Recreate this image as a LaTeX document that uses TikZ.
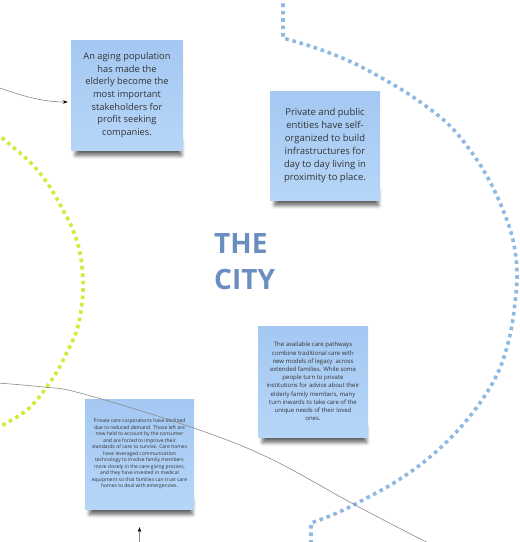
\documentclass[tikz,border=0pt]{standalone}
\usepackage{fontspec}
\setmainfont{Open Sans}
\usetikzlibrary{arrows.meta,shadows.blur,backgrounds}
\definecolor{notetop}{HTML}{A4C8F2}
\definecolor{notebot}{HTML}{B6D6F8}
\definecolor{dotblue}{HTML}{8DB9E2}
\definecolor{dotgreen}{HTML}{D3EA3B}
\definecolor{citycol}{HTML}{6B8EC0}
\definecolor{linegray}{HTML}{8A8A8A}
\tikzset{
  note/.style={rectangle, top color=notetop, bottom color=notebot, draw=none,
    inner sep=0pt, align=center, text=black!80},
  noteshadow/.style={blur shadow={shadow xshift=0pt, shadow yshift=-5pt,
    shadow blur radius=4pt, shadow opacity=65}},
  dotline/.style={line width=3.6pt, dash pattern=on 3.6pt off 3.8pt},
  conn/.style={draw=linegray, line width=0.6pt},
  tipped/.style={-{Stealth[length=5pt,width=3.6pt,color=black]}},
  citytitle/.style={font=\fontsize{28}{34}\selectfont\bfseries, text=citycol, inner sep=0pt}
}
\begin{document}
\begin{tikzpicture}[x=1pt,y=-1pt]
\useasboundingbox (0,0) rectangle (520,542);

% notes
\node[note, minimum width=112pt, minimum height=110pt,
  font=\fontsize{9.3}{12.6}\selectfont] (A) at (127,95)
  {An aging population\\has made the\\elderly become the\\most important\\stakeholders for\\profit seeking\\companies.};
\node[note, minimum width=110pt, minimum height=109pt,
  font=\fontsize{9.5}{12.9}\selectfont] (B) at (325,145.5)
  {Private and public\\entities have self-\\organized to build\\infrastructures for\\day to day living in\\proximity to place.};
\node[note, minimum width=110pt, minimum height=111pt,
  font=\fontsize{6}{8.2}\selectfont] (C) at (313,381.5)
  {The available care pathways\\combine traditional care with\\new models of legacy \ across\\extended families. While some\\people turn to private\\institutions for advice about their\\elderly family members, many\\turn inwards to take care of the\\unique needs of their loved\\ones.};
\node[note, minimum width=109pt, minimum height=110pt,
  font=\fontsize{5}{6.47}\selectfont] (D) at (139.5,454)
  {Private care corporations have declined\\due to reduced demand. Those left are\\now held to account by the consumer\\and are forced to improve their\\standards of care to survive. Care homes\\have leveraged communication\\technology to involve family members\\more closely in the care-giving process,\\and they have invested in medical\\equipment so that families can trust care\\homes to deal with emergencies.};

\begin{scope}[on background layer]
  \foreach \n in {A,B,C,D}
    \path[noteshadow] ([xshift=5pt,yshift=14pt]\n.south west) rectangle ([xshift=-2pt]\n.south east);
\end{scope}

% title
\node[citytitle, anchor=base west] (the) at (214,253) {THE};
\node[citytitle, anchor=base west] (city) at (214,289) {CITY};

% dotted boundaries
\coordinate (bt) at (283,-4);
\coordinate (bb) at (311,546);
\draw[dotline, dotblue] (bt) -- plot[smooth, tension=0.6] coordinates {(283,38) (313,47) (347,60) (380,77) (413,97) (447,123) (470,150) (488,178) (503,210) (513,240) (517,272) (515,303) (510,335) (500,368) (484,397) (460,428) (430,457) (397,481) (363,500) (337,513) (311,523)} -- (bb);

\coordinate (gt) at (-4,133);
\coordinate (gb) at (-6,430);
\draw[dotline, dotgreen] plot[smooth, tension=0.6] coordinates {(gt) (13,147) (30,162) (43,177) (53,192) (63,210) (73,230) (80,253) (83,280) (82,303) (77,330) (68,350) (58,370) (43,392) (27,410) (3,425) (gb)};

% connectors
\coordinate (s1) at (0,88);
\draw[conn, tipped] (s1) .. controls (25,97) and (45,102) .. ([xshift=-3pt,yshift=-7pt]A.west);

\coordinate (l1) at (-2,383);
\coordinate (l2) at (432,545);
\draw[conn] plot[smooth, tension=0.6] coordinates {(l1) (43,387) (80,393) (185,425) (267,457) (357,506) (l2)};

\coordinate (b1) at (139.5,546);
\draw[conn, tipped, shorten >=18pt] (b1) -- (D.south);
\end{tikzpicture}
\end{document}
